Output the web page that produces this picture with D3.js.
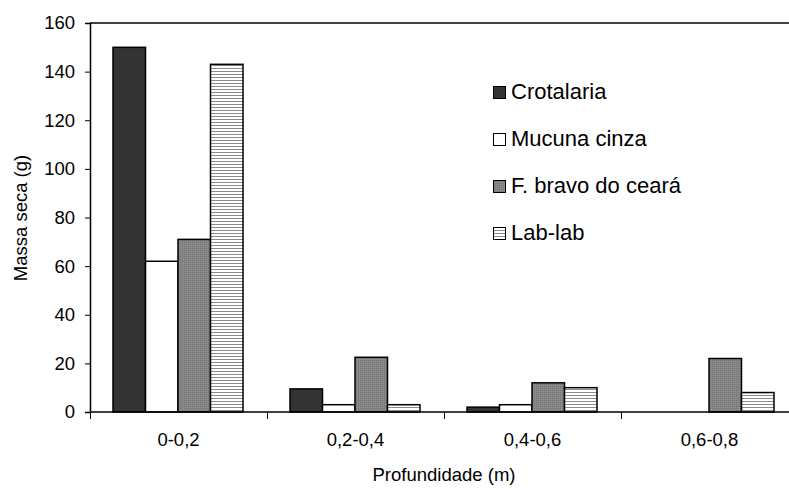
<!DOCTYPE html>
<html>
<head>
<meta charset="utf-8">
<script src="https://cdn.jsdelivr.net/npm/d3@7"></script>
<style>
  body { margin: 0; background: #fff; }
  svg { font-family: "Liberation Sans", Arial, sans-serif; }
</style>
</head>
<body>
<div id="chart"></div>
<script>
// data
var depths = ["0-0,2", "0,2-0,4", "0,4-0,6", "0,6-0,8"];
var species = ["Crotalaria", "Mucuna cinza", "F. bravo do ceará", "Lab-lab"];
var crotalaria = [150, 9.5, 2, 0];
var mucuna = [62, 3, 3, 0];
var bravo = [71, 22.5, 12, 22];
var lablab = [143, 3, 10, 8];
var yTicks = [0, 20, 40, 60, 80, 100, 120, 140, 160];

var series = [crotalaria, mucuna, bravo, lablab];

var width = 789, height = 489;
var plotLeft = 90, plotTop = 23, plotBottom = 412, plotRight = 798;

var svg = d3.select("#chart")
    .append("svg")
    .attr("width", width)
    .attr("height", height);

var defs = svg.append("defs");

// dotted grey fill
var dots = defs.append("pattern")
    .attr("id", "dots")
    .attr("patternUnits", "userSpaceOnUse")
    .attr("width", 2).attr("height", 2);
dots.append("rect").attr("width", 2).attr("height", 2).attr("fill", "#8a8a8a");
dots.append("rect").attr("width", 1).attr("height", 1).attr("fill", "#707070");

// horizontal stripes
var stripes = defs.append("pattern")
    .attr("id", "stripes")
    .attr("patternUnits", "userSpaceOnUse")
    .attr("width", 4).attr("height", 3);
stripes.append("rect").attr("width", 4).attr("height", 3).attr("fill", "#fff");
stripes.append("rect").attr("y", 2).attr("width", 4).attr("height", 1).attr("fill", "#8c8c8c");

var fills = ["#333333", "#ffffff", "url(#dots)", "url(#stripes)"];

var x = d3.scaleBand().domain(depths).range([plotLeft, plotRight]);
var xs = d3.scaleBand().domain(d3.range(species.length)).range([23, 153]);
var y = d3.scaleLinear().domain([0, 160]).range([plotBottom, plotTop]);

// bars
series.forEach(function (vals, si) {
    svg.append("g")
        .selectAll("rect")
        .data(vals)
        .enter().append("rect")
        .attr("x", function (d, i) { return x(depths[i]) + xs(si); })
        .attr("y", function (d) { return y(d); })
        .attr("width", xs.bandwidth())
        .attr("height", function (d) { return plotBottom - y(d); })
        .attr("fill", fills[si])
        .attr("stroke", "#000")
        .attr("stroke-width", 1.5)
        .style("display", function (d) { return d > 0 ? null : "none"; });
});

// frame top line
svg.append("line")
    .attr("x1", plotLeft).attr("x2", width)
    .attr("y1", plotTop).attr("y2", plotTop)
    .attr("stroke", "#000").attr("stroke-width", 1.5);

// y axis
var yAxis = svg.append("g")
    .attr("transform", "translate(" + plotLeft + ",0)")
    .call(d3.axisLeft(y).tickValues(yTicks).tickSize(5).tickPadding(10));
yAxis.select(".domain").attr("stroke-width", 1.5);
yAxis.selectAll("text").style("font-size", "18.5px").attr("fill", "#000");

// x axis: ticks at band boundaries
var xAxis = svg.append("g")
    .attr("transform", "translate(0," + plotBottom + ")");
xAxis.append("line")
    .attr("x1", plotLeft).attr("x2", width)
    .attr("stroke", "#000").attr("stroke-width", 1.5);
xAxis.selectAll(".tk")
    .data(depths)
    .enter().append("line")
    .attr("x1", function (d) { return Math.round(x(d)) + 0.5; })
    .attr("x2", function (d) { return Math.round(x(d)) + 0.5; })
    .attr("y1", 0).attr("y2", 7)
    .attr("stroke", "#000");
xAxis.selectAll(".lbl")
    .data(depths)
    .enter().append("text")
    .attr("x", function (d) { return x(d) + x.bandwidth() / 2; })
    .attr("y", 34)
    .attr("text-anchor", "middle")
    .style("font-size", "18.5px")
    .text(function (d) { return d; });

// axis titles
svg.append("text")
    .attr("x", 444).attr("y", 481)
    .attr("text-anchor", "middle")
    .style("font-size", "18.5px")
    .text("Profundidade (m)");

svg.append("text")
    .attr("transform", "translate(27,218)rotate(-90)")
    .attr("text-anchor", "middle")
    .style("font-size", "18.5px")
    .text("Massa seca (g)");

// legend
var legend = svg.append("g").attr("transform", "translate(493,93)");
species.forEach(function (s, i) {
    legend.append("rect")
        .attr("x", 0.5).attr("y", i * 47 - 6.5)
        .attr("width", 12).attr("height", 12)
        .attr("fill", fills[i])
        .attr("stroke", "#000");
    legend.append("text")
        .attr("x", 18).attr("y", i * 47)
        .attr("dominant-baseline", "middle")
        .style("font-size", "22px")
        .text(s);
});
</script>
</body>
</html>
